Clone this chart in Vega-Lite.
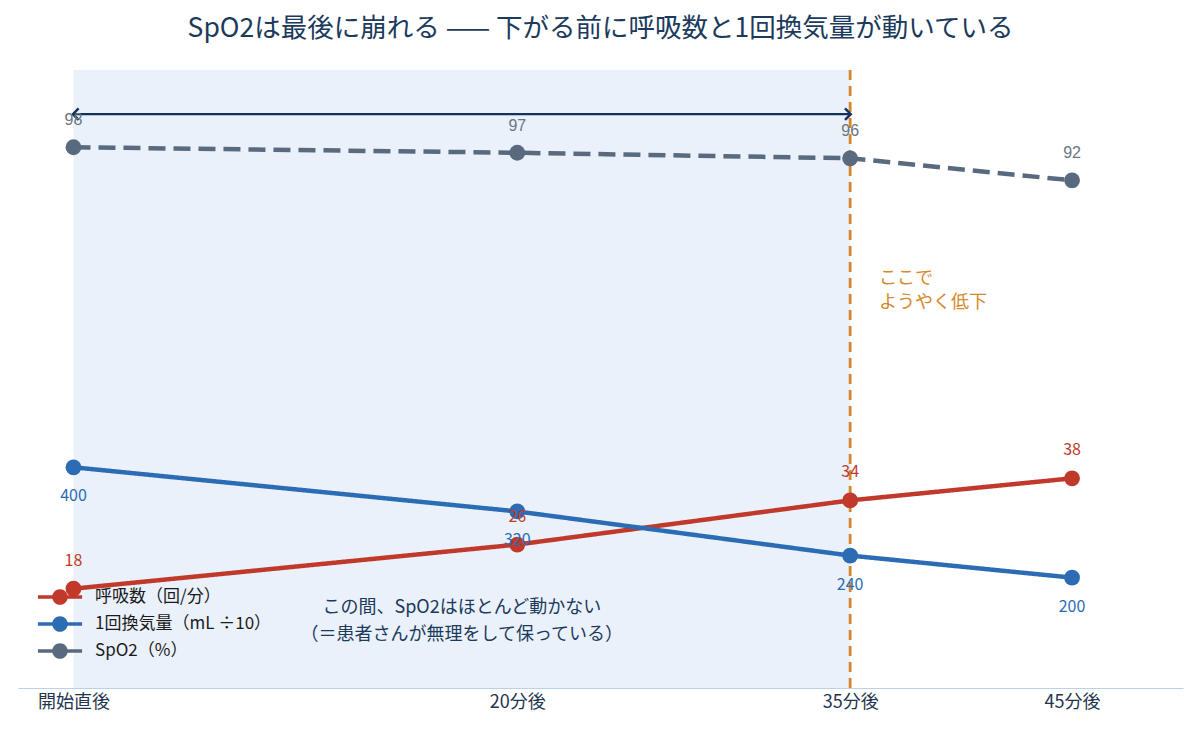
{
  "$schema": "https://vega.github.io/schema/vega-lite/v6.json",
  "width": 1165,
  "height": 618,
  "autosize": "none",
  "padding": {"left": 18, "top": 70, "right": 17, "bottom": 43},
  "background": "white",
  "title": {
    "text": "SpO2は最後に崩れる —— 下がる前に呼吸数と1回換気量が動いている",
    "font": "Noto Sans CJK JP, sans-serif",
    "fontSize": 26.5,
    "fontWeight": "normal",
    "color": "#1b3a5c",
    "anchor": "middle",
    "frame": "group",
    "offset": 26
  },
  "config": {
    "view": {"stroke": null},
    "font": "Noto Sans CJK JP, sans-serif"
  },
  "datasets": {
    "series": [
      {"t": 0, "series": "呼吸数（回/分）", "value": 18, "label": "18"},
      {"t": 20, "series": "呼吸数（回/分）", "value": 26, "label": "26"},
      {"t": 35, "series": "呼吸数（回/分）", "value": 34, "label": "34"},
      {"t": 45, "series": "呼吸数（回/分）", "value": 38, "label": "38"},
      {"t": 0, "series": "1回換気量（mL ÷10）", "value": 40, "label": "400"},
      {"t": 20, "series": "1回換気量（mL ÷10）", "value": 32, "label": "320"},
      {"t": 35, "series": "1回換気量（mL ÷10）", "value": 24, "label": "240"},
      {"t": 45, "series": "1回換気量（mL ÷10）", "value": 20, "label": "200"},
      {"t": 0, "series": "SpO2（%）", "value": 98, "label": "98"},
      {"t": 20, "series": "SpO2（%）", "value": 97, "label": "97"},
      {"t": 35, "series": "SpO2（%）", "value": 96, "label": "96"},
      {"t": 45, "series": "SpO2（%）", "value": 92, "label": "92"}
    ]
  },
  "layer": [
    {
      "data": {"values": [{"start": 0, "end": 35}]},
      "mark": {"type": "rect", "color": "#eaf1fa"},
      "encoding": {
        "x": {"field": "start", "type": "quantitative", "scale": {"domain": [-2.5, 50], "nice": false, "zero": false},
          "axis": {
            "values": [0, 20, 35, 45],
            "labelExpr": "datum.value == 0 ? '開始直後' : datum.value + '分後'",
            "title": null, "grid": false, "ticks": false,
            "domainColor": "#b9d1ea", "domainWidth": 1.2,
            "labelFontSize": 18, "labelColor": "#1f3550", "labelPadding": 5,
            "labelFont": "Noto Sans CJK JP, sans-serif"
          }},
        "x2": {"field": "end"}
      }
    },
    {
      "data": {"values": [{"t": 35}]},
      "mark": {"type": "rule", "color": "#d4892a", "strokeWidth": 2.8, "strokeDash": [10, 6]},
      "encoding": {"x": {"field": "t", "type": "quantitative"}}
    },
    {
      "data": {"values": [{"a": 0, "b": 35, "y": 104}]},
      "mark": {"type": "rule", "color": "#15335a", "strokeWidth": 2.2},
      "encoding": {
        "x": {"field": "a", "type": "quantitative"},
        "x2": {"field": "b"},
        "y": {"field": "y", "type": "quantitative", "scale": {"domain": [0, 112], "nice": false}, "axis": null}
      }
    },
    {
      "data": {"values": [{"t": 0, "y": 104, "dir": "l"}]},
      "mark": {"type": "point", "shape": "M 0.9 -1 L -0.1 0 L 0.9 1", "filled": false, "stroke": "#15335a", "strokeWidth": 2.5, "size": 130, "opacity": 1},
      "encoding": {
        "x": {"field": "t", "type": "quantitative"},
        "y": {"field": "y", "type": "quantitative"}
      }
    },
    {
      "data": {"values": [{"t": 35, "y": 104, "dir": "r"}]},
      "mark": {"type": "point", "shape": "M -0.9 -1 L 0.1 0 L -0.9 1", "filled": false, "stroke": "#15335a", "strokeWidth": 2.5, "size": 130, "opacity": 1},
      "encoding": {
        "x": {"field": "t", "type": "quantitative"},
        "y": {"field": "y", "type": "quantitative"}
      }
    },
    {
      "data": {"name": "series"},
      "mark": {"type": "line", "strokeWidth": 4.5},
      "encoding": {
        "x": {"field": "t", "type": "quantitative"},
        "y": {"field": "value", "type": "quantitative"},
        "detail": {"field": "series"},
        "stroke": {"field": "series", "type": "nominal",
          "scale": {"domain": ["呼吸数（回/分）", "1回換気量（mL ÷10）", "SpO2（%）"], "range": ["#c0392b", "#2b6cb5", "#596a7f"]}},
        "strokeDash": {"field": "series", "type": "nominal",
          "scale": {"domain": ["呼吸数（回/分）", "1回換気量（mL ÷10）", "SpO2（%）"], "range": [[1, 0], [1, 0], [17, 8]]}}
      }
    },
    {
      "data": {"name": "series"},
      "mark": {"type": "point", "filled": true, "size": 250, "opacity": 1, "shape": "circle"},
      "encoding": {
        "x": {"field": "t", "type": "quantitative"},
        "y": {"field": "value", "type": "quantitative"},
        "fill": {"field": "series", "type": "nominal",
          "scale": {"domain": ["呼吸数（回/分）", "1回換気量（mL ÷10）", "SpO2（%）"], "range": ["#c0392b", "#2b6cb5", "#596a7f"]},
          "legend": {
            "title": null,
            "orient": "none",
            "legendX": 29,
            "legendY": 514,
            "symbolType": "M -1.7 -0.13 L 1.7 -0.13 L 1.7 0.13 L -1.7 0.13 Z M -0.6 0 A 0.6 0.6 0 1 1 0.6 0 A 0.6 0.6 0 1 1 -0.6 0 Z",
            "symbolSize": 676,
            "symbolStrokeWidth": 0,
            "symbolOpacity": 1,
            "labelFontSize": 17,
            "labelColor": "#1a1a1a",
            "labelOffset": 22,
            "labelLimit": 400,
            "rowPadding": 6,
            "labelFont": "Noto Sans CJK JP, sans-serif"
          }}
      }
    },
    {
      "data": {"name": "series"},
      "transform": [{"filter": "datum.series == 'SpO2（%）'"}],
      "mark": {"type": "text", "dy": -27, "fontSize": 16, "color": "#6b7684", "font": "Liberation Sans, Arial, sans-serif"},
      "encoding": {
        "x": {"field": "t", "type": "quantitative"},
        "y": {"field": "value", "type": "quantitative"},
        "text": {"field": "label"}
      }
    },
    {
      "data": {"name": "series"},
      "transform": [{"filter": "datum.series == '呼吸数（回/分）'"}],
      "mark": {"type": "text", "dy": -28, "fontSize": 16, "color": "#c0392b"},
      "encoding": {
        "x": {"field": "t", "type": "quantitative"},
        "y": {"field": "value", "type": "quantitative"},
        "text": {"field": "label"}
      }
    },
    {
      "data": {"name": "series"},
      "transform": [{"filter": "datum.series == '1回換気量（mL ÷10）'"}],
      "mark": {"type": "text", "dy": 29, "fontSize": 16, "color": "#2b6cb5"},
      "encoding": {
        "x": {"field": "t", "type": "quantitative"},
        "y": {"field": "value", "type": "quantitative"},
        "text": {"field": "label"}
      }
    },
    {
      "data": {"values": [{"t": 36.3, "y": 75.7, "text": ["ここで", "ようやく低下"]}]},
      "mark": {"type": "text", "align": "left", "baseline": "top", "fontSize": 18, "lineHeight": 24, "color": "#d4892a"},
      "encoding": {
        "x": {"field": "t", "type": "quantitative"},
        "y": {"field": "y", "type": "quantitative"},
        "text": {"field": "text"}
      }
    },
    {
      "data": {"values": [{"t": 17.5, "y": 16.1, "text": ["この間、SpO2はほとんど動かない", "（＝患者さんが無理をして保っている）"]}]},
      "mark": {"type": "text", "align": "center", "baseline": "top", "fontSize": 18, "lineHeight": 27, "color": "#1b3a5c"},
      "encoding": {
        "x": {"field": "t", "type": "quantitative"},
        "y": {"field": "y", "type": "quantitative"},
        "text": {"field": "text"}
      }
    }
  ]
}
